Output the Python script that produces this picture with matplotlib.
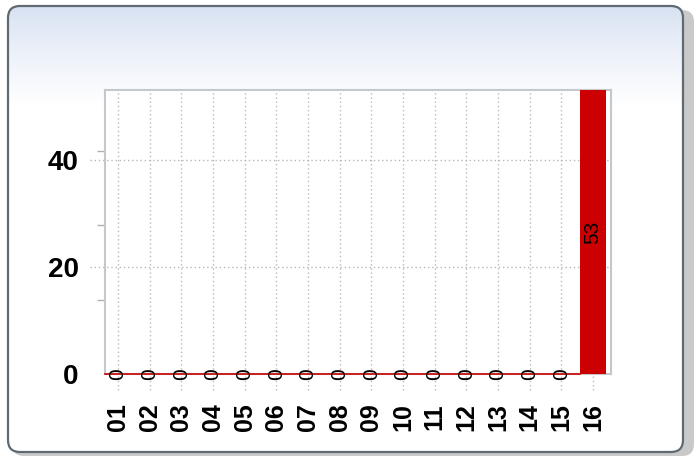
import numpy as np
import matplotlib.pyplot as plt
from matplotlib.patches import FancyBboxPatch
from matplotlib.transforms import blended_transform_factory

# chart data
categories = ['01', '02', '03', '04', '05', '06', '07', '08',
              '09', '10', '11', '12', '13', '14', '15', '16']
counts = [0, 0, 0, 0, 0, 0, 0, 0, 0, 0, 0, 0, 0, 0, 0, 53]
y_ticks = [0, 20, 40]
y_minor = [13.9, 27.8, 41.7]

plt.rcParams['font.family'] = ['Liberation Sans', 'DejaVu Sans']

fig = plt.figure(figsize=(6.99, 4.57), dpi=100)

# background panel (rounded, gradient, shadow)
bg = fig.add_axes([0, 0, 1, 1])
bg.set_xlim(0, 699)
bg.set_ylim(457, 0)
bg.axis('off')
shadow = FancyBboxPatch((12, 10), 682, 446, boxstyle='round,pad=0,rounding_size=12',
                        facecolor='#c9c9c9', edgecolor='none')
bg.add_patch(shadow)
panel = FancyBboxPatch((8, 6), 675, 446, boxstyle='round,pad=0,rounding_size=12',
                       facecolor='white', edgecolor='none')
bg.add_patch(panel)
grad = np.ones((457, 1, 3))
top = np.array([0.84, 0.88, 0.95])
for r in range(457):
    t = min(max((r - 6) / 100.0, 0), 1) ** 0.8
    grad[r, 0] = top * (1 - t) + np.array([1, 1, 1]) * t
im = bg.imshow(grad, extent=(0, 699, 457, 0), aspect='auto', zorder=2)
im.set_clip_path(panel)
border = FancyBboxPatch((8, 6), 675, 446, boxstyle='round,pad=0,rounding_size=12',
                        facecolor='none', edgecolor='#5f6a72', linewidth=1.6, zorder=3)
bg.add_patch(border)

# main chart
ax = fig.add_axes([105 / 699, 1 - 374 / 457, 506 / 699, 284 / 457])
ax.set_facecolor('white')
x = np.arange(len(categories))
ax.set_xlim(-0.41, 15.57)
ax.set_ylim(0, 53)

# dotted grid, extending outside the plot area a little
trans_v = blended_transform_factory(ax.transData, ax.transAxes)
for xi in x:
    ax.plot([xi, xi], [-0.055, 1], transform=trans_v, color='#b8b8b8',
            linestyle=(0, (1, 2)), linewidth=1, clip_on=False, zorder=1)
trans_h = blended_transform_factory(ax.transAxes, ax.transData)
for yv in y_ticks[1:]:
    ax.plot([-0.03, 1], [yv, yv], transform=trans_h, color='#b8b8b8',
            linestyle=(0, (1, 2)), linewidth=1, clip_on=False, zorder=1)

ax.bar(x, counts, width=0.8, color='#cc0000', zorder=3)
ax.plot([x[0] - 0.41, x[-1] - 0.4], [0, 0], color='#cc0000', linewidth=1.2,
        zorder=3, clip_on=False)

for xi, v in zip(x, counts):
    ax.text(xi, v / 2, str(v), rotation=90, ha='center', va='center',
            fontsize=15, color='black', zorder=5)

for side in ['left', 'right', 'top', 'bottom']:
    ax.spines[side].set_color('#c4c8cc')
    ax.spines[side].set_linewidth(1.5)

ax.set_yticks(y_ticks)
ax.set_yticklabels([str(v) for v in y_ticks], fontsize=20, fontweight='bold')
ax.set_yticks(y_minor, minor=True)
ax.tick_params(axis='y', which='major', length=0, pad=19)
ax.tick_params(axis='y', which='minor', length=6, color='#b0b0b0', width=1)

ax.set_xticks(x)
ax.set_xticklabels(categories, rotation=90, fontsize=18, fontweight='bold')
ax.tick_params(axis='x', length=0, pad=21)

fig.savefig('out.png', dpi=100)
